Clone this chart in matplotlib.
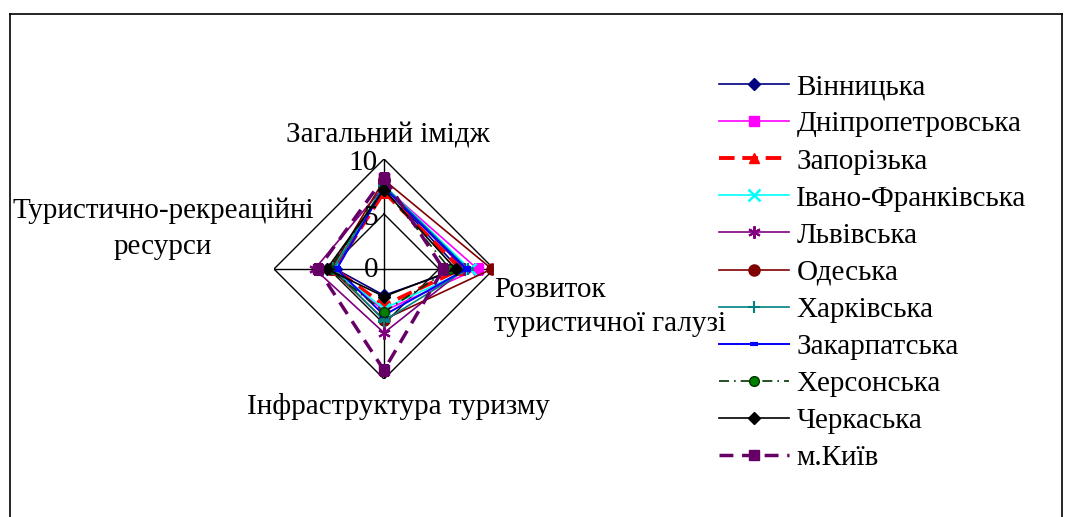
import numpy as np
import matplotlib
matplotlib.use("Agg")
import matplotlib.pyplot as plt
from matplotlib.lines import Line2D

plt.rcParams['font.family'] = ['Liberation Serif', 'DejaVu Serif']

categories = ["Загальний імідж", "Розвиток\nтуристичної галузі",
              "Інфраструктура туризму", "Туристично-рекреаційні\nресурси"]
regions = ["Вінницька", "Дніпропетровська", "Запорізька", "Івано-Франківська",
           "Львівська", "Одеська", "Харківська", "Закарпатська", "Херсонська",
           "Черкаська", "м.Київ"]
# order: image, industry development, infrastructure, resources
vinnytsia = [7.5, 6.8, 2.4, 4.4]
dnipro = [7.5, 8.5, 3.8, 4.6]
zaporizhzhia = [7.0, 7.0, 3.3, 4.5]
ivano_frankivsk = [7.6, 7.8, 3.6, 4.7]
lviv = [7.5, 7.3, 5.8, 6.3]
odesa = [8.1, 9.8, 4.6, 4.8]
kharkiv = [7.6, 7.6, 4.7, 4.6]
zakarpattia = [7.4, 7.5, 4.2, 4.3]
kherson = [7.3, 6.0, 3.9, 5.0]
cherkasy = [7.2, 6.5, 2.5, 5.2]
kyiv = [8.3, 5.4, 9.2, 6.0]
radial_ticks = [0, 5, 10]

series = [vinnytsia, dnipro, zaporizhzhia, ivano_frankivsk, lviv, odesa,
          kharkiv, zakarpattia, kherson, cherkasy, kyiv]
styles = [
    dict(color="#000080", ls="-", lw=1.2, marker="D", ms=6, mfc="#000080", mec="#000080"),
    dict(color="#FF00FF", ls="-", lw=1.2, marker="s", ms=7, mfc="#FF00FF", mec="#FF00FF"),
    dict(color="#FF0000", ls=(0, (4, 2)), lw=2.8, marker="^", ms=7, mfc="#FF0000", mec="#FF0000"),
    dict(color="#00FFFF", ls="-", lw=1.2, marker="x", ms=8, mew=1.8, mfc="#00FFFF", mec="#00FFFF"),
    dict(color="#800080", ls="-", lw=1.2, marker=(6, 2, 0), ms=9, mew=1.5, mfc="#800080", mec="#800080"),
    dict(color="#800000", ls="-", lw=1.2, marker="o", ms=8, mfc="#800000", mec="#800000"),
    dict(color="#008080", ls="-", lw=1.2, marker="+", ms=9, mew=1.5, mfc="#008080", mec="#008080"),
    dict(color="#0000FF", ls="-", lw=1.4, marker="_", ms=6, mew=3, mfc="#0000FF", mec="#0000FF"),
    dict(color="#003300", ls=(0, (6, 3, 1, 3)), lw=1.2, marker="o", ms=7, mfc="#008000", mec="#003300"),
    dict(color="#000000", ls="-", lw=1.2, marker="D", ms=6, mfc="#000000", mec="#000000"),
    dict(color="#660066", ls=(0, (4, 2.5)), lw=2.5, marker="s", ms=7, mfc="#660066", mec="#660066"),
]

W, H = 1070, 517
fig = plt.figure(figsize=(W / 100, H / 100), dpi=100)
fig.patch.set_facecolor("white")

# outer border (top, left, right)
fig.add_artist(Line2D([10 / W, 1062 / W], [1 - 14 / H, 1 - 14 / H], color="black", lw=1.2))
fig.add_artist(Line2D([10 / W, 10 / W], [0, 1 - 14 / H], color="black", lw=1.2))
fig.add_artist(Line2D([1062 / W, 1062 / W], [0, 1 - 14 / H], color="black", lw=1.2))

cx, cy, R = 384, 269, 110
ax = fig.add_axes([(cx - R) / W, (H - cy - R) / H, 2 * R / W, 2 * R / H], projection="polar")
ax.set_theta_offset(np.pi / 2)
ax.set_theta_direction(-1)
ax.set_ylim(0, 10)
ax.grid(False)
ax.set_xticks([])
ax.set_yticks([])
ax.spines["polar"].set_visible(False)
ax.patch.set_alpha(0)

n = len(categories)
angles = np.arange(n) * 2 * np.pi / n
closed = np.concatenate([angles, angles[:1]])

# polygon grid
for r in radial_ticks[1:]:
    ax.plot(closed, [r] * (n + 1), color="black", lw=1.0, zorder=1)
for a in angles:
    ax.plot([a, a], [0, radial_ticks[-1]], color="black", lw=1.0, zorder=1)

for vals, name, st in zip(series, regions, styles):
    v = list(vals) + [vals[0]]
    ax.plot(closed, v, label=name, zorder=3, **st)

fs = 21
for r in radial_ticks:
    ax.annotate(str(r), xy=(0, r), xytext=(-6, -4 if r else -1), textcoords="offset pixels",
                ha="right", va="center", fontsize=fs)

# category labels
fig.text(388 / W, 1 - 136 / H, categories[0], ha="center", va="center", fontsize=fs)
fig.text(494 / W, 1 - 307 / H, categories[1], ha="left", va="center", fontsize=fs,
         linespacing=1.38)
fig.text(398 / W, 1 - 407 / H, categories[2], ha="center", va="center", fontsize=fs)
fig.text(163 / W, 1 - 229 / H, categories[3], ha="center", va="center", fontsize=fs,
         linespacing=1.48)

handles, labels = ax.get_legend_handles_labels()
leg = fig.legend(handles, labels, loc="upper left", bbox_to_anchor=(719 / W, 1 - 74 / H),
                 frameon=False, fontsize=fs, handlelength=2.4, handletextpad=0.25,
                 labelspacing=0.365, borderpad=0, borderaxespad=0)

fig.savefig("out.png", dpi=100, facecolor="white")
